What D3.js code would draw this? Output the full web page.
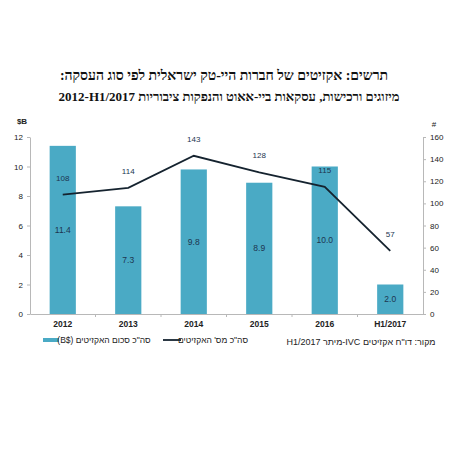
<!DOCTYPE html>
<html>
<head>
<meta charset="utf-8">
<script src="https://cdn.jsdelivr.net/npm/d3@7"></script>
<style>
  body { margin: 0; background: #fff; }
  svg { font-family: "Liberation Sans", Arial, sans-serif; }
</style>
</head>
<body>
<div id="chart"></div>
<script>
const years = ['2012', '2013', '2014', '2015', '2016', 'H1/2017'];
const amounts = [11.4, 7.3, 9.8, 8.9, 10.0, 2.0];   // $B
const counts = [108, 114, 143, 128, 115, 57];        // number of exits
const leftTicks = [0, 2, 4, 6, 8, 10, 12];
const rightTicks = [0, 20, 40, 60, 80, 100, 120, 140, 160];

// LRE ... PDF keeps latin runs in left-to-right order inside rtl text
const ltr = s => '\u202A' + s + '\u202C';
const titleLines = [
  'תרשים: אקזיטים של חברות היי-טק ישראלית לפי סוג העסקה:',
  'מיזוגים ורכישות, עסקאות ביי-אאוט והנפקות ציבוריות ' + ltr('2012-H1/2017')
];
const legendBars = 'סה"כ סכום האקזיטים ' + ltr('(B$)');
const legendLine = 'סה"כ מס\' האקזיטים';
const sourceText = 'מקור: דו"ח אקזיטים IVC-מיתר H1/2017';

const barColor = '#4aaac5';
const lineColor = '#15232f';
const labelColor = '#1d3550';

const W = 450, H = 450;
const margin = { top: 137, right: 27, bottom: 136, left: 30 };
const width = W - margin.left - margin.right;
const height = H - margin.top - margin.bottom;

const svg = d3.select('#chart').append('svg')
  .attr('width', W)
  .attr('height', H);

// title
svg.selectAll('.title')
  .data(titleLines)
  .enter()
  .append('text')
  .attr('class', 'title')
  .attr('x', (d, i) => i === 0 ? 224 : 229)
  .attr('y', (d, i) => 80 + i * 21)
  .attr('direction', 'rtl')
  .attr('text-anchor', 'middle')
  .style('font-family', '"Liberation Serif", "DejaVu Serif", serif')
  .style('font-weight', 'bold')
  .style('font-size', (d, i) => i === 0 ? '14px' : '13px')
  .attr('fill', '#111')
  .text(d => d);

const g = svg.append('g')
  .attr('transform', `translate(${margin.left},${margin.top})`);

const x = d3.scaleBand().domain(years).range([0, width]).paddingInner(0.6).paddingOuter(0.3);
const yL = d3.scaleLinear().domain([0, 12]).range([height, 0]);
const yR = d3.scaleLinear().domain([0, 160]).range([height, 0]);

// axes
const leftAxis = g.append('g')
  .call(d3.axisLeft(yL).tickValues(leftTicks).tickSize(3).tickSizeOuter(0).tickPadding(4));
const rightAxis = g.append('g')
  .attr('transform', `translate(${width},0)`)
  .call(d3.axisRight(yR).tickValues(rightTicks).tickSize(3).tickSizeOuter(0).tickPadding(4));

[leftAxis, rightAxis].forEach(a => {
  a.select('.domain').attr('stroke', '#b8b8b8');
  a.selectAll('.tick line').attr('stroke', '#b8b8b8');
  a.selectAll('.tick text').attr('fill', '#222').style('font-size', '8px');
});

// x axis: baseline with ticks on band boundaries
const xAxis = g.append('g')
  .attr('transform', `translate(0,${height})`)
  .call(d3.axisBottom(x).tickSize(0).tickPadding(7));
xAxis.select('.domain').attr('stroke', '#b8b8b8');
xAxis.selectAll('.tick text')
  .attr('fill', '#222')
  .style('font-size', '8.5px')
  .style('font-weight', 'bold');

const step = x.step();
g.append('g')
  .selectAll('line')
  .data(years.slice(1))
  .enter()
  .append('line')
  .attr('x1', d => x(d) - (step - x.bandwidth()) / 2)
  .attr('x2', d => x(d) - (step - x.bandwidth()) / 2)
  .attr('y1', height)
  .attr('y2', height + 3)
  .attr('stroke', '#b8b8b8');

// axis unit labels
svg.append('text')
  .attr('x', 22).attr('y', 124)
  .attr('text-anchor', 'middle')
  .style('font-size', '8px')
  .style('font-weight', 'bold')
  .attr('fill', '#222')
  .text('$B');
svg.append('text')
  .attr('x', 434).attr('y', 127)
  .attr('text-anchor', 'middle')
  .style('font-size', '8px')
  .attr('fill', '#222')
  .text('#');

// bars
g.selectAll('.bar')
  .data(amounts)
  .enter()
  .append('rect')
  .attr('class', 'bar')
  .attr('x', (d, i) => x(years[i]))
  .attr('y', d => yL(d))
  .attr('width', x.bandwidth())
  .attr('height', d => height - yL(d))
  .attr('fill', barColor);

g.selectAll('.bar-label')
  .data(amounts)
  .enter()
  .append('text')
  .attr('class', 'bar-label')
  .attr('x', (d, i) => x(years[i]) + x.bandwidth() / 2)
  .attr('y', d => (yL(d) + height) / 2 + 3)
  .attr('text-anchor', 'middle')
  .style('font-size', '8.5px')
  .attr('fill', labelColor)
  .text(d => d.toFixed(1));

// line
const line = d3.line()
  .x((d, i) => x(years[i]) + x.bandwidth() / 2)
  .y(d => yR(d));

g.append('path')
  .datum(counts)
  .attr('d', line)
  .attr('fill', 'none')
  .attr('stroke', lineColor)
  .attr('stroke-width', 1.8);

g.selectAll('.count-label')
  .data(counts)
  .enter()
  .append('text')
  .attr('class', 'count-label')
  .attr('x', (d, i) => x(years[i]) + x.bandwidth() / 2)
  .attr('y', d => yR(d) - 14)
  .attr('text-anchor', 'middle')
  .style('font-size', '8px')
  .attr('fill', labelColor)
  .text(d => d);

// legend
const lg = svg.append('g').style('font-size', '8.5px').attr('fill', '#222');
lg.append('rect')
  .attr('x', 43).attr('y', 338)
  .attr('width', 16).attr('height', 4)
  .attr('fill', barColor);
lg.append('text')
  .attr('x', 104).attr('y', 343)
  .attr('direction', 'rtl')
  .attr('text-anchor', 'middle')
  .text(legendBars);
lg.append('line')
  .attr('x1', 163).attr('x2', 181)
  .attr('y1', 340).attr('y2', 340)
  .attr('stroke', lineColor)
  .attr('stroke-width', 1.8);
lg.append('text')
  .attr('x', 213).attr('y', 343)
  .attr('direction', 'rtl')
  .attr('text-anchor', 'middle')
  .text(legendLine);
lg.append('text')
  .attr('x', 361).attr('y', 345)
  .attr('direction', 'rtl')
  .attr('text-anchor', 'middle')
  .style('font-size', '9px')
  .text(sourceText);
</script>
</body>
</html>
